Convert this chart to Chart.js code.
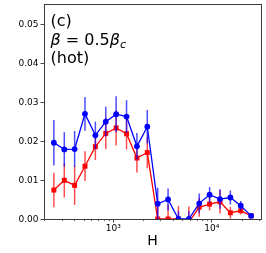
<!DOCTYPE html>
<html><head><meta charset="utf-8">
<script src="https://cdn.jsdelivr.net/npm/chart.js@4"></script>
<style>html,body{margin:0;padding:0;background:#fff}#wrap{width:266px;height:253px;position:relative}</style>
</head><body><div id="wrap"><canvas id="c"></canvas></div>
<script>
// ---- data ----
const fieldH = [250, 319, 406, 517, 659, 840, 1070, 1364, 1738, 2214, 2822, 3596, 4582, 5839, 7440, 9480, 12080, 15394, 19616, 25000];
const blueVals = [0.0195, 0.0178, 0.0179, 0.0269, 0.0214, 0.0249, 0.0268, 0.0262, 0.0186, 0.0236, 0.0039, 0.0050, 0.0000, 0.0000, 0.0040, 0.0062, 0.0051, 0.0055, 0.0034, 0.0008];
const blueErrs = [0.0058, 0.0044, 0.0046, 0.0043, 0.0035, 0.0038, 0.0046, 0.0042, 0.0034, 0.0043, 0.0041, 0.0028, 0.0020, 0.0020, 0.0025, 0.0020, 0.0025, 0.0018, 0.0012, 0.0005];
const redVals = [0.0074, 0.0099, 0.0086, 0.0135, 0.0185, 0.0219, 0.0233, 0.0218, 0.0156, 0.0170, 0.0000, 0.0000, 0.0000, -0.0008, 0.0030, 0.0038, 0.0044, 0.0016, 0.0021, 0.0008];
const redErrs = [0.0044, 0.0044, 0.0050, 0.0038, 0.0034, 0.0040, 0.0045, 0.0040, 0.0037, 0.0040, 0.0040, 0.0037, 0.0033, 0.0040, 0.0024, 0.0016, 0.0030, 0.0015, 0.0009, 0.0005];
const xMajorTicks = [1000, 10000];
const xMajorLabels = ['10\u00b3', '10\u2074'];
const xMinorTicks = [200, 300, 400, 500, 600, 700, 800, 900, 2000, 3000, 4000, 5000, 6000, 7000, 8000, 9000, 20000, 30000];
const yTickValues = [0, 0.01, 0.02, 0.03, 0.04, 0.05];
const yTickLabels = ['0.00', '0.01', '0.02', '0.03', '0.04', '0.05'];
const xRange = [198.6, 31475];
const yRange = [0, 0.055];

const FONT = "'DejaVu Sans', sans-serif";

const errorBars = {
  id: 'errorBars',
  beforeDatasetDraw(chart, args) {
    const ds = chart.data.datasets[args.index];
    if (!ds.errors) return;
    const xs = chart.scales.x, ys = chart.scales.y, ctx = chart.ctx, a = chart.chartArea;
    ctx.save();
    ctx.beginPath(); ctx.rect(a.left, a.top, a.right - a.left, a.bottom - a.top); ctx.clip();
    ctx.strokeStyle = ds.errorColor; ctx.lineWidth = 1.5;
    ds.data.forEach((p, i) => {
      const x = xs.getPixelForValue(p.x);
      const y1 = ys.getPixelForValue(p.y - ds.errors[i]);
      const y2 = ys.getPixelForValue(p.y + ds.errors[i]);
      ctx.beginPath(); ctx.moveTo(x, y1); ctx.lineTo(x, y2); ctx.stroke();
    });
    ctx.restore();
  }
};

function runs(ctx, x, y, parts) {
  for (const [t, f, dy] of parts) { ctx.font = f; ctx.fillText(t, x, y + dy); x += ctx.measureText(t).width; }
}

const decor = {
  id: 'decor',
  afterDraw(chart) {
    const ctx = chart.ctx, a = chart.chartArea, xs = chart.scales.x, ys = chart.scales.y;
    ctx.save();
    ctx.strokeStyle = '#333'; ctx.lineWidth = 0.7;
    xMinorTicks.forEach(v => {
      const x = Math.round(xs.getPixelForValue(v)) + 0.5;
      ctx.beginPath(); ctx.moveTo(x, a.bottom); ctx.lineTo(x, a.bottom + 2.2); ctx.stroke();
    });
    ctx.lineWidth = 0.9;
    ctx.fillStyle = '#000'; ctx.font = '9px ' + FONT; ctx.textAlign = 'right'; ctx.textBaseline = 'middle';
    yTickValues.forEach((v, i) => {
      const y = Math.round(ys.getPixelForValue(v)) + 0.5;
      ctx.beginPath(); ctx.moveTo(a.left - 3.5, y); ctx.lineTo(a.left, y); ctx.stroke();
      ctx.fillText(yTickLabels[i], a.left - 5.5, y);
    });
    ctx.strokeStyle = '#3c3c3c'; ctx.lineWidth = 1;
    ctx.strokeRect(Math.round(a.left) + 0.5, Math.round(a.top) + 0.5, Math.round(a.right - a.left), Math.round(a.bottom - a.top));
    ctx.fillStyle = '#000'; ctx.textBaseline = 'alphabetic'; ctx.textAlign = 'left';
    const f16 = '16px ' + FONT, i16 = 'italic 16px ' + FONT, i11 = 'italic 11.2px ' + FONT;
    runs(ctx, 50.5, 26, [['(c)', f16, 0]]);
    runs(ctx, 50.5, 44.5, [['\u03b2', i16, 0], [' = 0.5', f16, 0], ['\u03b2', i16, 0], ['c', i11, 3.2]]);
    runs(ctx, 50.5, 63, [['(hot)', f16, 0]]);
    ctx.restore();
  }
};

new Chart(document.getElementById('c'), {
  type: 'line',
  data: {
    datasets: [
      {
        data: fieldH.map((h, i) => ({ x: h, y: blueVals[i] })),
        errors: blueErrs, errorColor: 'rgba(0,0,255,0.7)',
        borderColor: '#0000ff', backgroundColor: '#0000ff', borderWidth: 1.3,
        pointStyle: 'circle', pointRadius: 2.9, pointBorderWidth: 0, pointHoverRadius: 2.9,
        tension: 0, clip: 0
      },
      {
        data: fieldH.map((h, i) => ({ x: h, y: redVals[i] })),
        errors: redErrs, errorColor: 'rgba(255,0,0,0.7)',
        borderColor: '#ff0000', backgroundColor: '#ff0000', borderWidth: 1.3,
        pointStyle: 'rect', pointRadius: 3.5, pointBorderWidth: 0, pointHoverRadius: 3.5,
        tension: 0, clip: 0
      }
    ]
  },
  options: {
    responsive: true, maintainAspectRatio: false, animation: false,
    events: [],
    layout: { padding: { top: 4, right: 5, left: 0, bottom: 0 } },
    plugins: { legend: { display: false }, tooltip: { enabled: false } },
    scales: {
      x: {
        type: 'logarithmic', min: xRange[0], max: xRange[1],
        afterBuildTicks: s => { s.ticks = xMajorTicks.map(v => ({ value: v })); },
        afterFit: s => { s.height = 34; },
        ticks: {
          autoSkip: false, maxRotation: 0, padding: 1,
          color: '#000', font: { family: FONT, size: 9 },
          callback: v => xMajorLabels[xMajorTicks.indexOf(v)]
        },
        grid: { display: true, drawOnChartArea: false, drawTicks: true, tickLength: 3.5, tickColor: '#333', tickWidth: 0.9 },
        border: { display: false },
        title: { display: true, text: 'H', color: '#000', font: { family: FONT, size: 14 }, padding: { top: 0, bottom: 3.5 } }
      },
      y: {
        type: 'linear', min: yRange[0], max: yRange[1],
        afterFit: s => { s.width = 44; },
        ticks: { display: false },
        grid: { display: false },
        border: { display: false },
        title: { display: false }
      }
    }
  },
  plugins: [errorBars, decor]
});
</script>
</body></html>
